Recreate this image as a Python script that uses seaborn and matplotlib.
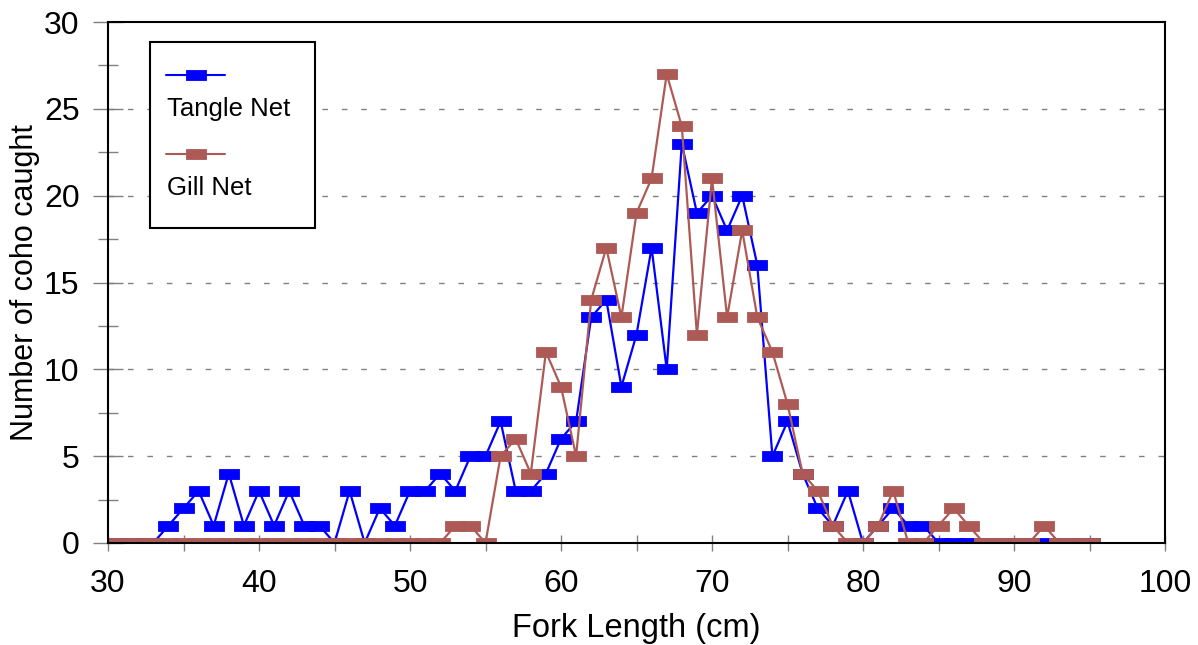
import numpy as np
import pandas as pd
import matplotlib
matplotlib.use("Agg")
import matplotlib.pyplot as plt
from matplotlib.path import Path
from matplotlib.patches import Rectangle
from matplotlib.lines import Line2D
from matplotlib.ticker import MultipleLocator
import seaborn as sns

fork_length = list(range(30, 96))
tangle_net = [0, 0, 0, 0, 1, 2, 3, 1, 4, 1, 3, 1, 3, 1, 1, 0, 3, 0, 2, 1,
              3, 3, 4, 3, 5, 5, 7, 3, 3, 4, 6, 7, 13, 14, 9, 12, 17, 10, 23, 19,
              20, 18, 20, 16, 5, 7, 4, 2, 1, 3, 0, 1, 2, 1, 1, 0, 0, 0, 0, 0,
              0, 0, 0, 0, 0, 0]
gill_net = [0, 0, 0, 0, 0, 0, 0, 0, 0, 0, 0, 0, 0, 0, 0, 0, 0, 0, 0, 0,
            0, 0, 0, 1, 1, 0, 5, 6, 4, 11, 9, 5, 14, 17, 13, 19, 21, 27, 24, 12,
            21, 13, 18, 13, 11, 8, 4, 3, 1, 0, 0, 1, 3, 0, 0, 1, 2, 1, 0, 0,
            0, 0, 1, 0, 0, 0]
series_names = ["Tangle Net", "Gill Net"]
colors = ["#0000FF", "#AD5A57"]

sns.set_theme(style="white")
plt.rcParams['font.family'] = ['Liberation Sans', 'DejaVu Sans']
plt.rcParams['text.color'] = 'black'
plt.rcParams['axes.labelcolor'] = 'black'
plt.rcParams['xtick.labelcolor'] = 'black'
plt.rcParams['ytick.labelcolor'] = 'black'

df = pd.DataFrame({"x": fork_length, "Tangle Net": tangle_net, "Gill Net": gill_net})

fig = plt.figure(figsize=(11.98, 6.45), dpi=100)
ax = fig.add_axes([108/1198, (645-543)/645, (1165-108)/1198, (543-22)/645])

rect_marker = Path([(-1, -0.5), (1, -0.5), (1, 0.5), (-1, 0.5), (-1, -0.5)],
                   [Path.MOVETO, Path.LINETO, Path.LINETO, Path.LINETO, Path.CLOSEPOLY])

for name, c in zip(series_names, colors):
    sns.lineplot(data=df, x="x", y=name, ax=ax, color=c, linewidth=1.6,
                 marker=rect_marker, markersize=15, markeredgecolor=c,
                 markeredgewidth=0.6, estimator=None, sort=False, legend=False)

ax.set_xlim(30, 100)
ax.set_ylim(0, 30)
ax.xaxis.set_major_locator(MultipleLocator(10))
ax.xaxis.set_minor_locator(MultipleLocator(5))
ax.yaxis.set_major_locator(MultipleLocator(5))
ax.yaxis.set_minor_locator(MultipleLocator(2.5))

for y in [5, 10, 15, 20, 25]:
    ax.axhline(y, color="#808080", linewidth=1, linestyle=(0, (4, 10)), zorder=0)

for s in ax.spines.values():
    s.set_color("black")
    s.set_linewidth(1.5)

ax.tick_params(axis="x", which="both", direction="inout", length=12, width=1,
               color="#808080", labelsize=23, pad=13, bottom=True, top=False)
ax.tick_params(axis="y", which="major", direction="inout", length=21, width=1,
               color="#808080", labelsize=23, pad=10, left=True, right=False)
ax.tick_params(axis="y", which="minor", direction="inout", length=14, width=1,
               color="#808080", left=True, right=False)
ax.set_xlabel("Fork Length (cm)", fontsize=23.5, labelpad=10)
ax.set_ylabel("Number of coho caught", fontsize=22, labelpad=3)

# legend box
tr = ax.transAxes
def ax_xy(px, py):
    return ((px - 108) / (1165 - 108), (543 - py) / (543 - 22))

x0, y0 = ax_xy(150, 228)
x1, y1 = ax_xy(315, 42)
ax.add_patch(Rectangle((x0, y0), x1 - x0, y1 - y0, transform=tr, fill=True,
                       facecolor="white", edgecolor="black", linewidth=1.5, zorder=5))
for (ly, ty, name, c) in [(75, 109, series_names[0], colors[0]), (154, 188, series_names[1], colors[1])]:
    lx0, lyy = ax_xy(166, ly)
    lx1, _ = ax_xy(225, ly)
    mx, _ = ax_xy(196, ly)
    ax.add_line(Line2D([lx0, lx1], [lyy, lyy], transform=tr, color=c, linewidth=1.5, zorder=6))
    ax.add_line(Line2D([mx], [lyy], transform=tr, color=c, marker=rect_marker,
                       markersize=15, markeredgecolor=c, markeredgewidth=0.6, zorder=6))
    tx, tyy = ax_xy(167, ty)
    ax.text(tx, tyy, name, transform=tr, fontsize=18.5, ha="left", va="center", zorder=6)

fig.savefig("out.png", dpi=100)
